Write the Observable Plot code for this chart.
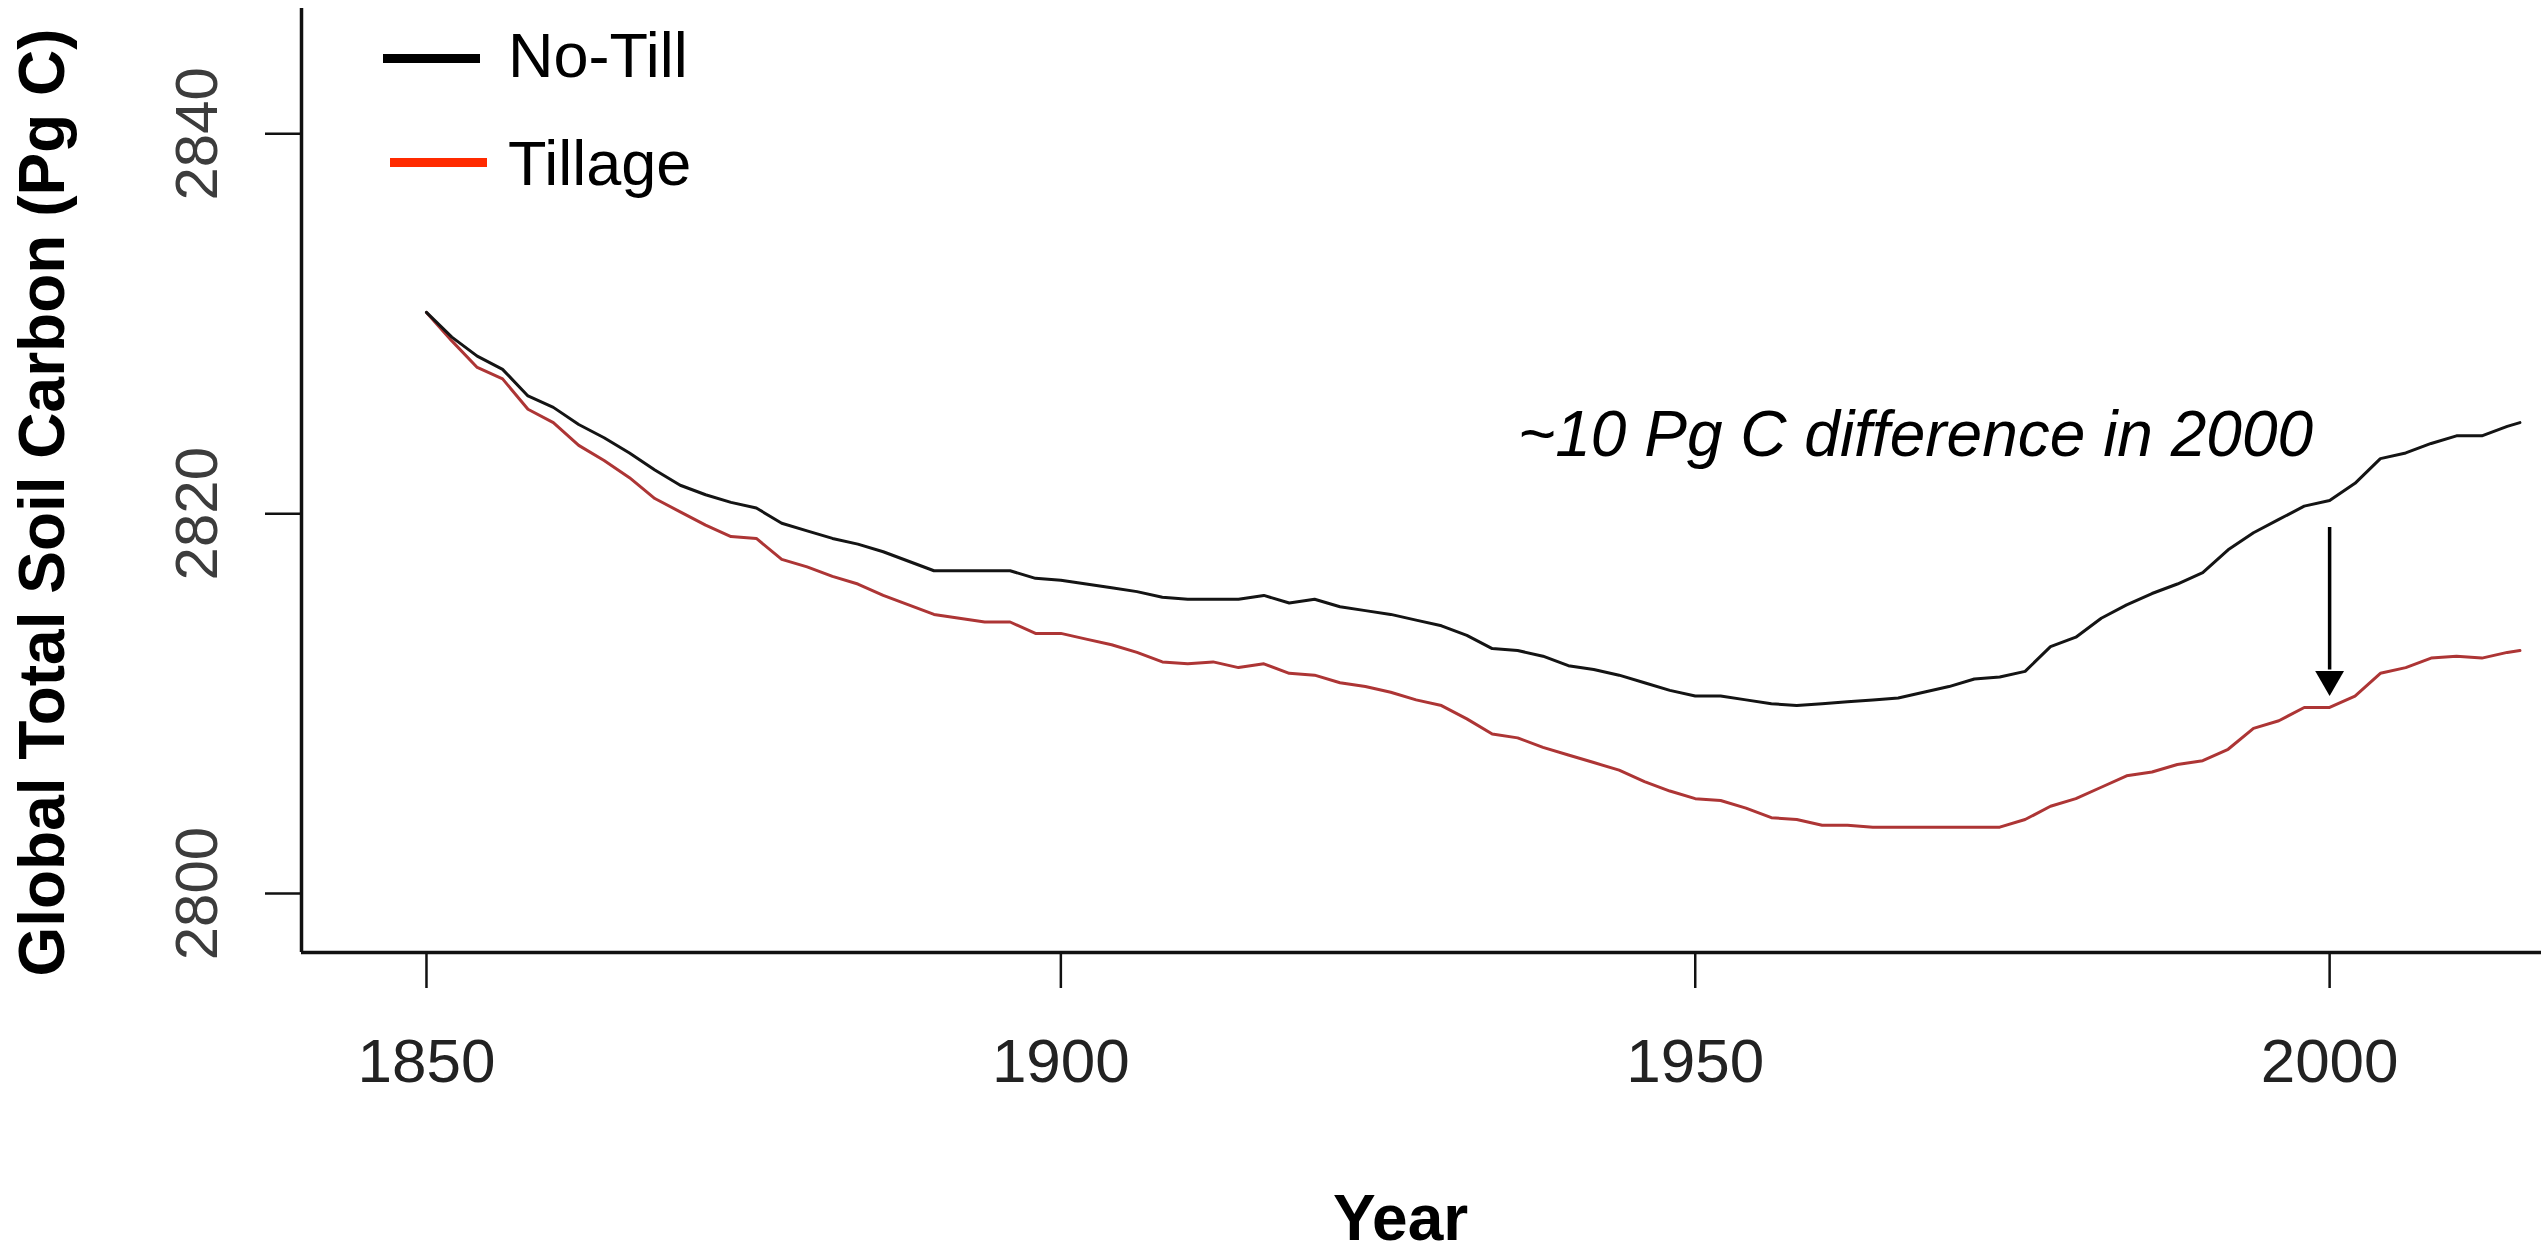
<!DOCTYPE html>
<html>
<head>
<meta charset="utf-8">
<script src="https://cdn.jsdelivr.net/npm/d3@7"></script>
<script src="https://cdn.jsdelivr.net/npm/@observablehq/plot@0.6"></script>
<style>
  html, body { margin: 0; padding: 0; background: #ffffff; }
  #wrap { position: relative; width: 2541px; height: 1249px; font-family: "Liberation Sans", Arial, Helvetica, sans-serif; }
  .lg-swatch { position: absolute; width: 97px; height: 9px; }
  .lg-text { position: absolute; font-size: 63px; line-height: 63px; color: #000; white-space: nowrap; }
</style>
</head>
<body>
<div id="wrap"></div>
<script>
// ---- data ----
const years = [1850,1852,1854,1856,1858,1860,1862,1864,1866,1868,1870,1872,1874,1876,1878,1880,1882,1884,1886,1888,
  1890,1892,1894,1896,1898,1900,1902,1904,1906,1908,1910,1912,1914,1916,1918,1920,1922,1924,1926,1928,
  1930,1932,1934,1936,1938,1940,1942,1944,1946,1948,1950,1952,1954,1956,1958,1960,1962,1964,1966,1968,
  1970,1972,1974,1976,1978,1980,1982,1984,1986,1988,1990,1992,1994,1996,1998,2000,2002,2004,2006,2008,
  2010,2012,2014,2015];

const noTill = [2830.6,2829.3,2828.3,2827.6,2826.2,2825.6,2824.7,2824.0,2823.2,2822.3,2821.5,2821.0,2820.6,2820.3,2819.5,2819.1,2818.7,2818.4,2818.0,2817.5,
  2817.0,2817.0,2817.0,2817.0,2816.6,2816.5,2816.3,2816.1,2815.9,2815.6,2815.5,2815.5,2815.5,2815.7,2815.3,2815.5,2815.1,2814.9,2814.7,2814.4,
  2814.1,2813.6,2812.9,2812.8,2812.5,2812.0,2811.8,2811.5,2811.1,2810.7,2810.4,2810.4,2810.2,2810.0,2809.9,2810.0,2810.1,2810.2,2810.3,2810.6,
  2810.9,2811.3,2811.4,2811.7,2813.0,2813.5,2814.5,2815.2,2815.8,2816.3,2816.9,2818.1,2819.0,2819.7,2820.4,2820.7,2821.6,2822.9,2823.2,2823.7,
  2824.1,2824.1,2824.6,2824.8];

const tillage = [2830.6,2829.1,2827.7,2827.1,2825.5,2824.8,2823.6,2822.8,2821.9,2820.8,2820.1,2819.4,2818.8,2818.7,2817.6,2817.2,2816.7,2816.3,2815.7,2815.2,
  2814.7,2814.5,2814.3,2814.3,2813.7,2813.7,2813.4,2813.1,2812.7,2812.2,2812.1,2812.2,2811.9,2812.1,2811.6,2811.5,2811.1,2810.9,2810.6,2810.2,
  2809.9,2809.2,2808.4,2808.2,2807.7,2807.3,2806.9,2806.5,2805.9,2805.4,2805.0,2804.9,2804.5,2804.0,2803.9,2803.6,2803.6,2803.5,2803.5,2803.5,
  2803.5,2803.5,2803.5,2803.9,2804.6,2805.0,2805.6,2806.2,2806.4,2806.8,2807.0,2807.6,2808.7,2809.1,2809.8,2809.8,2810.4,2811.6,2811.9,2812.4,
  2812.5,2812.4,2812.7,2812.8];

const seriesNames = ["No-Till", "Tillage"];
const lineColors = ["#141414", "#ad3535"];
const legendColors = ["#000000", "#ff2a00"];

const xTicks = [1850, 1900, 1950, 2000];
const yTicks = [2800, 2820, 2840];
const xDomain = [1840.15, 2016.7];
const yDomain = [2796.9, 2846.6];

const xTitle = "Year";
const yTitle = "Global Total Soil Carbon (Pg C)";

const annotation = [{year: 1998.7, value: 2824.1, label: "~10 Pg C difference in 2000"}];
const arrowData = [{year: 2000, from: 2819.3, to: 2811.8, tip: 2810.4}];

// ---- build table ----
const rows = [];
years.forEach((yr, i) => {
  rows.push({year: yr, value: tillage[i], series: seriesNames[1]});
  rows.push({year: yr, value: noTill[i], series: seriesNames[0]});
});

const font = "'Liberation Sans', Arial, Helvetica, sans-serif";

const chart = Plot.plot({
  width: 2541,
  height: 1249,
  marginLeft: 301,
  marginRight: 0,
  marginTop: 8,
  marginBottom: 297,
  style: {fontFamily: font, background: "#ffffff", overflow: "visible"},
  x: {domain: xDomain},
  y: {domain: yDomain},
  color: {domain: seriesNames, range: lineColors},
  marks: [
    Plot.ruleY([yDomain[0]], {stroke: "#111", strokeWidth: 3.5}),
    Plot.ruleX([xDomain[0]], {stroke: "#111", strokeWidth: 3.5}),
    Plot.axisX({ticks: xTicks, tickSize: 36, tickPadding: 49, tickFormat: d => String(d),
      fontSize: 62, fill: "#222", stroke: "#111", strokeWidth: 2.5, label: null}),
    Plot.axisY({ticks: yTicks, tickSize: 36, tickPadding: 68, tickRotate: -90, lineAnchor: "middle",
      tickFormat: d => String(d), fontSize: 60, fill: "#3c3c3c", stroke: "#111", strokeWidth: 2.5, label: null}),
    Plot.line(rows.filter(d => d.series === seriesNames[1]), {x: "year", y: "value", stroke: "series", strokeWidth: 3}),
    Plot.line(rows.filter(d => d.series === seriesNames[0]), {x: "year", y: "value", stroke: "series", strokeWidth: 3}),
    Plot.link(arrowData, {x1: "year", x2: "year", y1: "from", y2: "to", stroke: "#000", strokeWidth: 3.5}),
    Plot.dot(arrowData, {x: "year", y: "tip", symbol: "triangle", rotate: 180, r: 10.7, fill: "#000", stroke: "none", dy: -16.7}),
    Plot.text(annotation, {x: "year", y: "value", text: "label", textAnchor: "end", lineAnchor: "middle", fontSize: 64, fontStyle: "italic", fill: "#000"}),
    Plot.text([yTitle], {text: d => d, frameAnchor: "left", textAnchor: "middle", lineAnchor: "middle", rotate: -90, dx: -258, dy: 22, fontSize: 64, fontWeight: "bold", fill: "#000"}),
    Plot.text([xTitle], {text: d => d, frameAnchor: "bottom", textAnchor: "middle", lineAnchor: "middle", dx: -21, dy: 267, fontSize: 64, fontWeight: "bold", fill: "#000"})
  ]
});

const wrap = document.getElementById("wrap");
wrap.appendChild(chart);

// ---- legend (overlay, top-left inside plot) ----
const legendLayout = [
  {swLeft: 383, swTop: 53.5, txTop: 23.7},
  {swLeft: 390, swTop: 157.5, txTop: 131.7}
];
seriesNames.forEach((name, i) => {
  const sw = document.createElement("div");
  sw.className = "lg-swatch";
  sw.style.left = legendLayout[i].swLeft + "px";
  sw.style.top = legendLayout[i].swTop + "px";
  sw.style.background = legendColors[i];
  wrap.appendChild(sw);
  const tx = document.createElement("div");
  tx.className = "lg-text";
  tx.style.left = "508px";
  tx.style.top = legendLayout[i].txTop + "px";
  tx.textContent = name;
  wrap.appendChild(tx);
});
</script>
</body>
</html>
